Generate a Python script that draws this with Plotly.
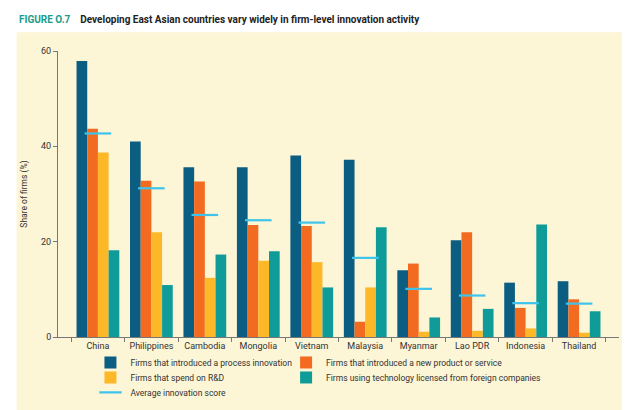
import plotly.graph_objects as go

countries = ["China", "Philippines", "Cambodia", "Mongolia", "Vietnam",
             "Malaysia", "Myanmar", "Lao PDR", "Indonesia", "Thailand"]
process_innov = [57.9, 41.0, 35.6, 35.6, 38.1, 37.2, 14.0, 20.3, 11.4, 11.7]
product_innov = [43.7, 32.8, 32.6, 23.5, 23.3, 3.2, 15.4, 22.0, 6.1, 7.9]
rd_spend = [38.7, 22.0, 12.4, 16.0, 15.7, 10.4, 1.1, 1.3, 1.8, 0.9]
foreign_tech = [18.2, 10.9, 17.3, 18.0, 10.4, 23.0, 4.1, 5.9, 23.6, 5.4]
avg_score = [42.7, 31.2, 25.6, 24.5, 24.0, 16.6, 10.1, 8.7, 7.1, 7.0]
y_ticks = [0, 20, 40, 60]

FONT = "Roboto, Arial, sans-serif"
bar_series = [
    ("Firms that introduced a process innovation", process_innov, "#0b5d82", "legend"),
    ("Firms that introduced a new product or service", product_innov, "#f26b21", "legend2"),
    ("Firms that spend on R&D", rd_spend, "#fdb827", "legend3"),
    ("Firms using technology licensed from foreign companies", foreign_tech, "#0f9c99", "legend4"),
]

fig = go.Figure()
for name, vals, col, lg in bar_series:
    fig.add_trace(go.Bar(x=countries, y=vals, name=name, marker_color=col,
                         marker_line_width=0, legend=lg))
fig.add_trace(go.Scatter(x=countries, y=avg_score, name="Average innovation score",
                         mode="markers", legend="legend5",
                         marker=dict(symbol="line-ew", size=19,
                                     line=dict(width=2.2, color="#3ec4ec"))))

W, H = 630, 410
L, R, T, B = 49.5, 18.5, 42.7, 81
pw, ph = W - L - R, H - T - B
def px_x(p):
    return (p - L) / pw
def px_y(p):
    return (H - B - p) / ph

fig.add_shape(type="rect", xref="paper", yref="paper",
              x0=px_x(8), x1=px_x(620), y0=px_y(403), y1=px_y(24),
              fillcolor="#fcf5d6", line_width=0, layer="below")

fig.add_annotation(xref="paper", yref="paper", x=px_x(8), y=px_y(11),
                   xanchor="left", yanchor="middle", showarrow=False,
                   text="<b><span style='color:#1a9c8c'>FIGURE O.7</span>"
                        "&nbsp;&nbsp;&nbsp;&nbsp;Developing East Asian countries vary widely in firm-level innovation activity</b>",
                   font=dict(family=FONT, size=10, color="#222"))

def legend_cfg(left, top):
    return dict(orientation="v", x=px_x(left), y=px_y(top), xanchor="left",
                yanchor="top", bgcolor="rgba(0,0,0,0)",
                font=dict(size=8.5, color="#333"), itemwidth=30)

fig.update_layout(
    width=W, height=H,
    margin=dict(l=L, r=R, t=T, b=B, autoexpand=False),
    paper_bgcolor="white", plot_bgcolor="rgba(0,0,0,0)",
    barmode="group", bargap=0.2, bargroupgap=0,
    font=dict(family=FONT, size=9, color="#333"),
    showlegend=True,
    legend=legend_cfg(82, 340),
    legend2=legend_cfg(278, 340),
    legend3=legend_cfg(82, 355),
    legend4=legend_cfg(278, 355),
    legend5=legend_cfg(82, 370),
)
fig.update_xaxes(showline=True, linecolor="#777", linewidth=1,
                 ticks="outside", tickson="boundaries", ticklen=4,
                 tickcolor="#777", showgrid=False, tickangle=0,
                 tickfont=dict(size=9, color="#333"))
fig.update_yaxes(range=[0, 60], tickvals=y_ticks, showline=True, linecolor="#777",
                 linewidth=1, ticks="outside", ticklen=4, tickcolor="#777",
                 showgrid=False, zeroline=False,
                 title=dict(text="Share of firms (%)", font=dict(size=8.5, color="#333"),
                            standoff=12),
                 tickfont=dict(size=9, color="#333"))

fig.write_html("out.html")
